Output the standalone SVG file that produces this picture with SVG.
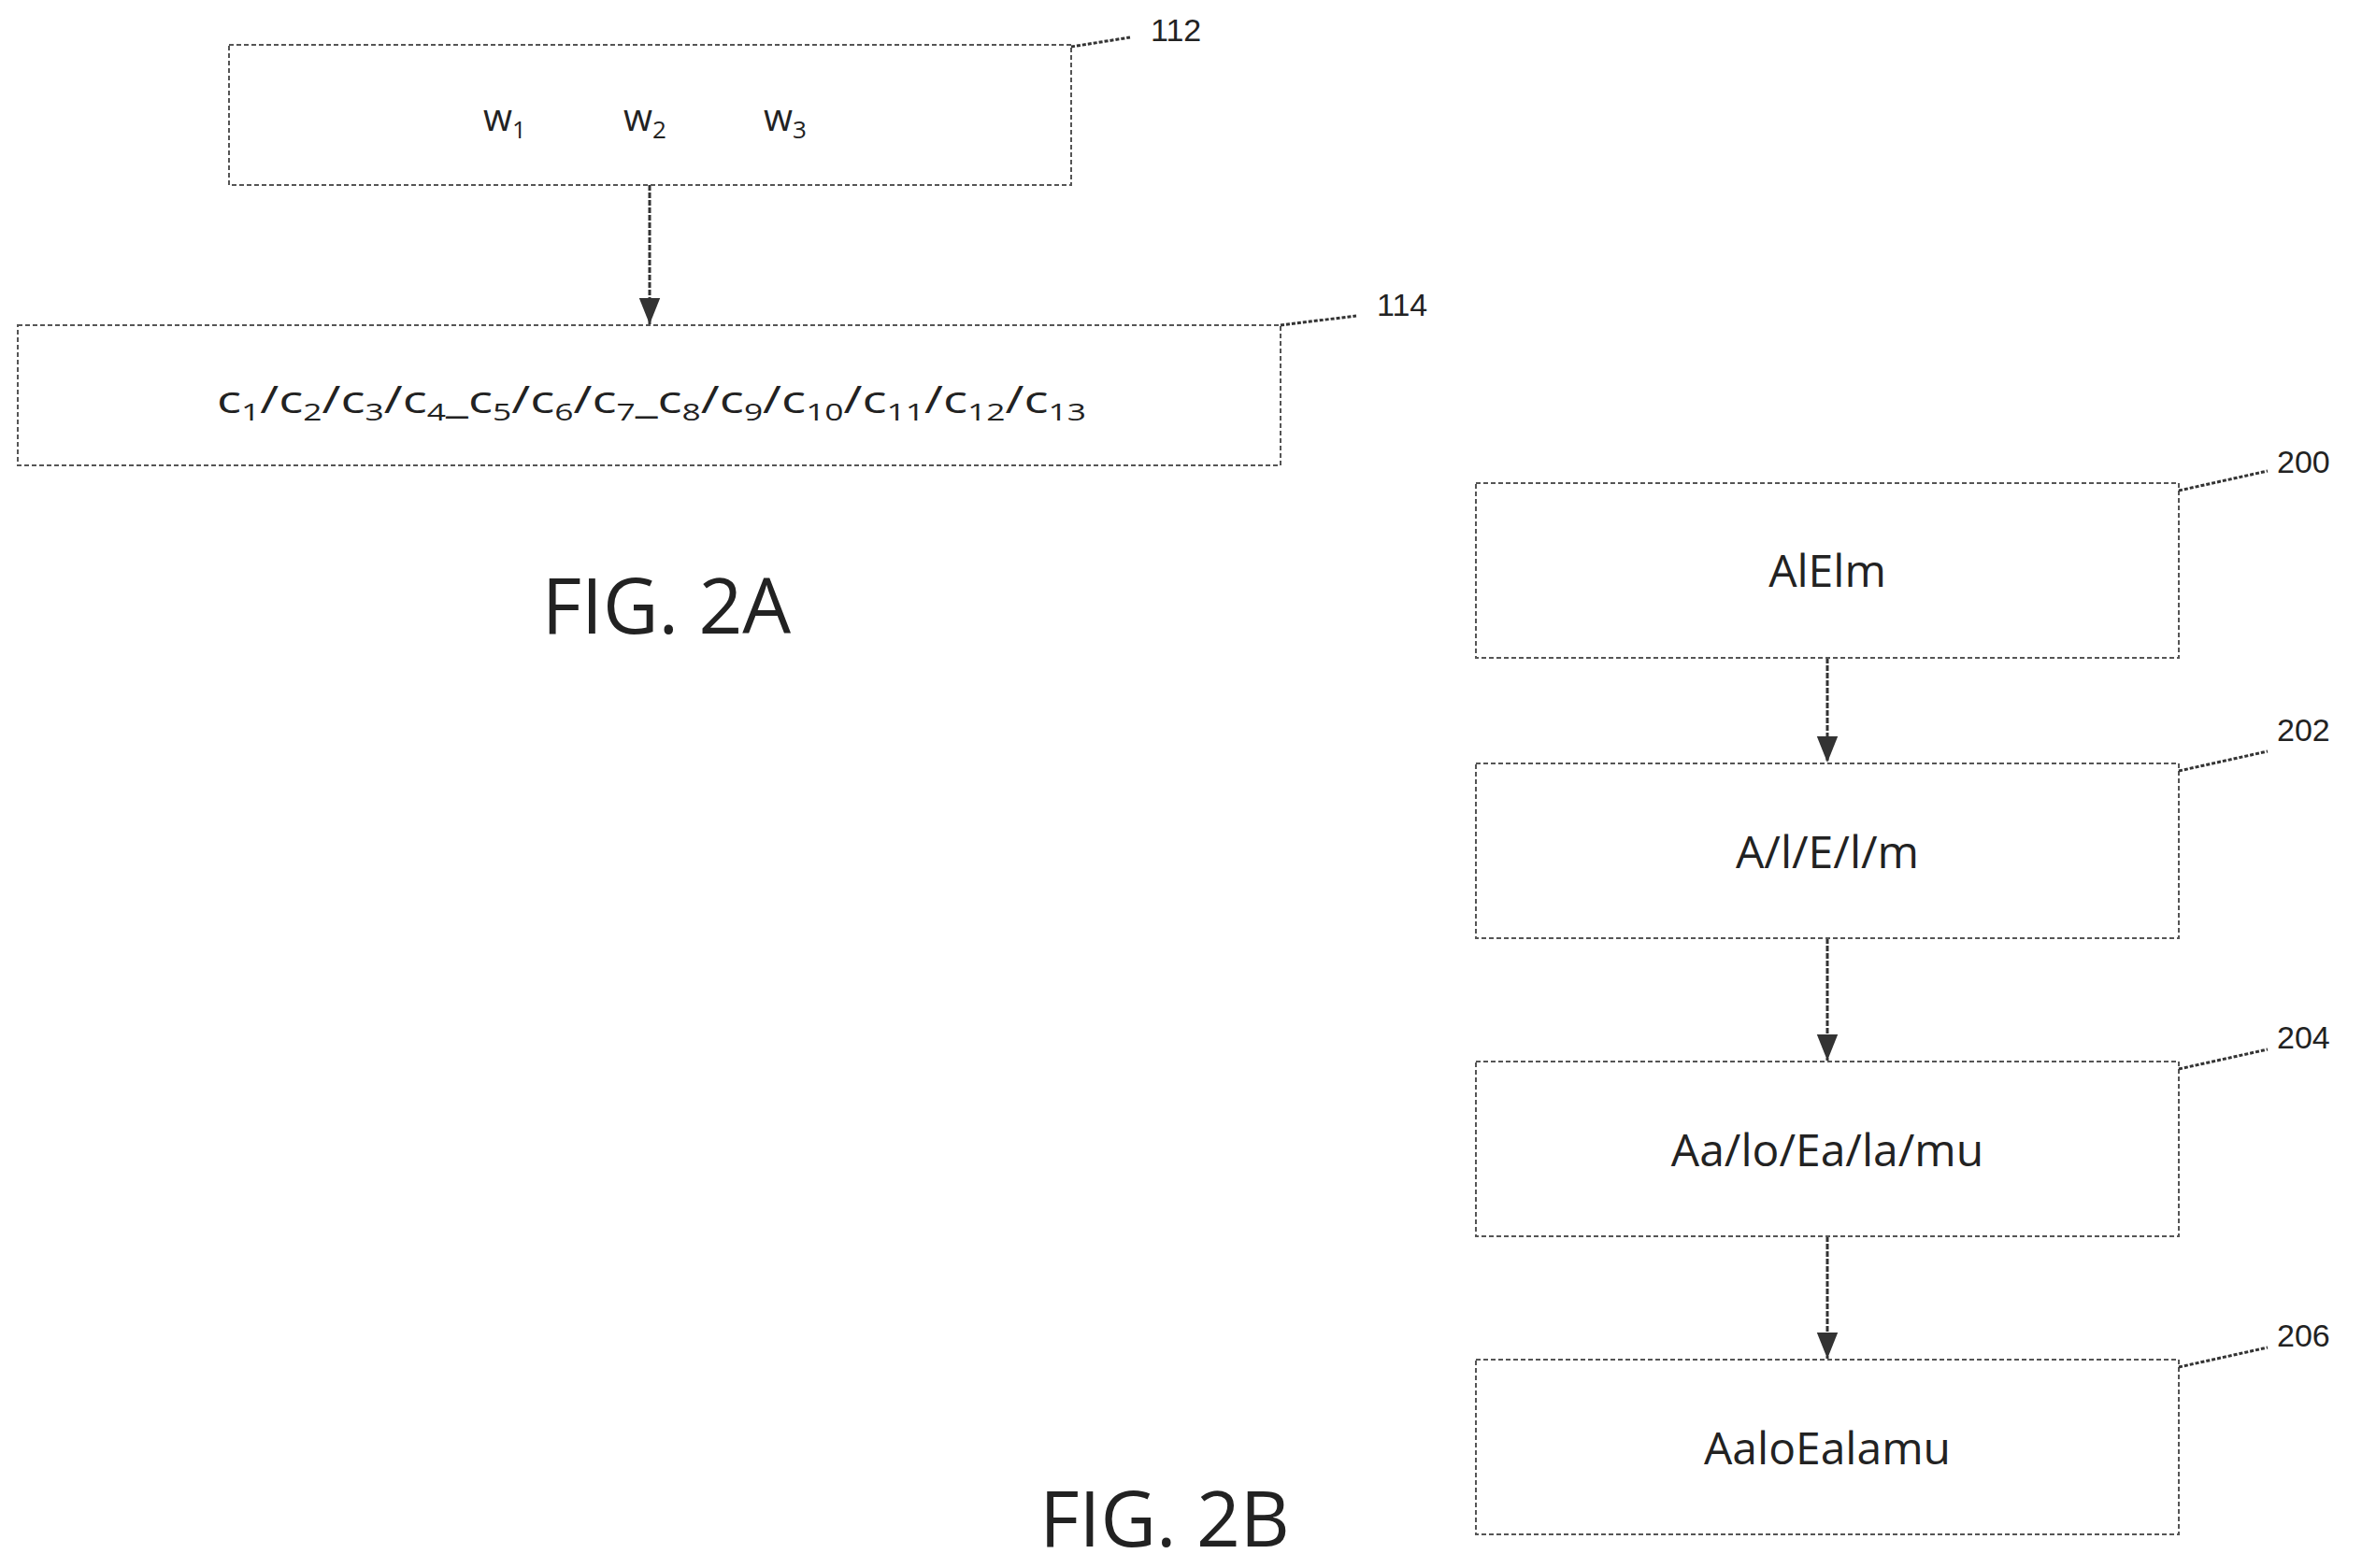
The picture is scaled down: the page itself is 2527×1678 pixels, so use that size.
<svg xmlns="http://www.w3.org/2000/svg" width="2527" height="1678" viewBox="0 0 2527 1678">
<style>
.box{fill:#fff;stroke:#555;stroke-width:2;stroke-dasharray:5 3}
.t{font-family:"Open Sans","Liberation Sans",sans-serif;fill:#222;text-anchor:middle}
.lab{font-family:"Liberation Sans",sans-serif;font-size:34px;fill:#222}
.ld{stroke:#333;stroke-width:3;stroke-dasharray:4 2;fill:none}
.con{stroke:#333;stroke-width:3;stroke-dasharray:6 2;fill:none}
.fig{font-family:"Open Sans","Liberation Sans",sans-serif;font-size:82px;fill:#222;text-anchor:middle}
</style>
<defs><marker id="ah" markerWidth="10" markerHeight="10" refX="9" refY="5" orient="auto" markerUnits="userSpaceOnUse" viewBox="0 0 10 10"><path d="M0,0 L10,5 L0,10 z" fill="#333"/></marker></defs>
<defs><marker id="a" viewBox="0 0 20 20" refX="20" refY="10" markerWidth="28" markerHeight="28" markerUnits="userSpaceOnUse" orient="auto"><path d="M0,2 L20,10 L0,18 z" fill="#333"/></marker></defs>
<g id="connectors">
<line class="con" x1="695" y1="198" x2="695" y2="347" marker-end="url(#a)"/>
<line class="con" x1="1955" y1="704" x2="1955" y2="816" marker-end="url(#a)"/>
<line class="con" x1="1955" y1="1004" x2="1955" y2="1135" marker-end="url(#a)"/>
<line class="con" x1="1955" y1="1323" x2="1955" y2="1454" marker-end="url(#a)"/>
</g>
<g id="n112"><rect class="box" x="245" y="48" width="901" height="150"/>
<text class="t" font-size="40" y="140"><tspan x="540">w</tspan><tspan font-size="26" dy="8">1</tspan><tspan x="690" dy="-8">w</tspan><tspan font-size="26" dy="8">2</tspan><tspan x="840" dy="-8">w</tspan><tspan font-size="26" dy="8">3</tspan></text>
<path class="ld" d="M1146,50 L1209,40"/><text class="lab" x="1231" y="44">112</text></g>
<g id="n114"><rect class="box" x="19" y="348" width="1351" height="150"/>
<text class="t" font-size="40" x="697" y="442" textLength="930" lengthAdjust="spacingAndGlyphs">c<tspan font-size="26" dy="8">1</tspan><tspan dy="-8">/c</tspan><tspan font-size="26" dy="8">2</tspan><tspan dy="-8">/c</tspan><tspan font-size="26" dy="8">3</tspan><tspan dy="-8">/c</tspan><tspan font-size="26" dy="8">4</tspan><tspan dy="-8">_c</tspan><tspan font-size="26" dy="8">5</tspan><tspan dy="-8">/c</tspan><tspan font-size="26" dy="8">6</tspan><tspan dy="-8">/c</tspan><tspan font-size="26" dy="8">7</tspan><tspan dy="-8">_c</tspan><tspan font-size="26" dy="8">8</tspan><tspan dy="-8">/c</tspan><tspan font-size="26" dy="8">9</tspan><tspan dy="-8">/c</tspan><tspan font-size="26" dy="8">10</tspan><tspan dy="-8">/c</tspan><tspan font-size="26" dy="8">11</tspan><tspan dy="-8">/c</tspan><tspan font-size="26" dy="8">12</tspan><tspan dy="-8">/c</tspan><tspan font-size="26" dy="8">13</tspan></text>
<path class="ld" d="M1370,348 L1451,338"/><text class="lab" x="1473" y="338">114</text></g>
<text class="fig" x="713" y="678">FIG. 2A</text>
<g id="n200"><rect class="box" x="1579" y="517" width="752" height="187"/><text class="t" font-size="48" x="1955" y="628">AlElm</text>
<path class="ld" d="M2331,525 L2426,504"/><text class="lab" x="2436" y="506">200</text></g>
<g id="n202"><rect class="box" x="1579" y="817" width="752" height="187"/><text class="t" font-size="48" x="1955" y="929">A/l/E/l/m</text>
<path class="ld" d="M2331,825 L2426,804"/><text class="lab" x="2436" y="793">202</text></g>
<g id="n204"><rect class="box" x="1579" y="1136" width="752" height="187"/><text class="t" font-size="48" x="1955" y="1248">Aa/lo/Ea/la/mu</text>
<path class="ld" d="M2331,1144 L2426,1123"/><text class="lab" x="2436" y="1122">204</text></g>
<g id="n206"><rect class="box" x="1579" y="1455" width="752" height="187"/><text class="t" font-size="48" x="1955" y="1567">AaloEalamu</text>
<path class="ld" d="M2331,1463 L2426,1442"/><text class="lab" x="2436" y="1441">206</text></g>
<text class="fig" x="1246" y="1655">FIG. 2B</text>
</svg>
